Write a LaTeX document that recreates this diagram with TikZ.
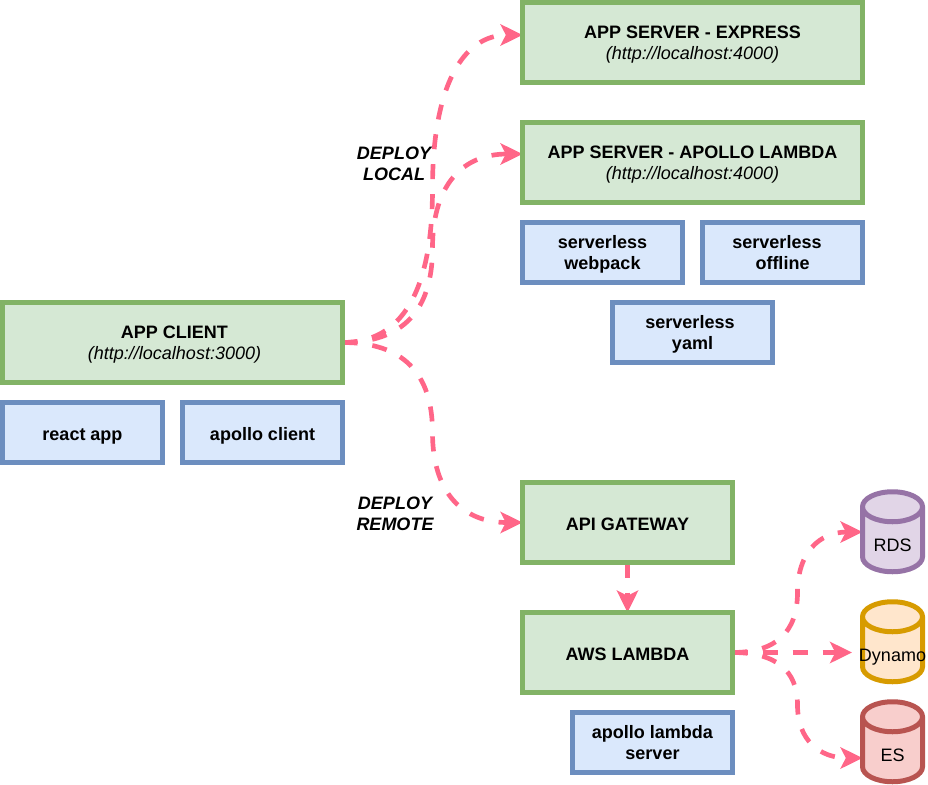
\documentclass[tikz,border=0pt]{standalone}
\usepackage{fontspec}
\setmainfont{Liberation Sans}
\usepackage{tikz}
\usetikzlibrary{arrows.meta, backgrounds, shapes.geometric}
\definecolor{linkpink}{HTML}{FF6688}
\definecolor{greenline}{HTML}{82B366}
\definecolor{greenfill}{HTML}{D5E8D4}
\definecolor{blueline}{HTML}{6C8EBF}
\definecolor{bluefill}{HTML}{DAE8FC}
\definecolor{purpleline}{HTML}{9673A6}
\definecolor{purplefill}{HTML}{E1D5E7}
\definecolor{orangeline}{HTML}{D79B00}
\definecolor{orangefill}{HTML}{FFE6CC}
\definecolor{redline}{HTML}{B85450}
\definecolor{redfill}{HTML}{F8CECC}

\begin{document}
\begin{tikzpicture}[x=0.75pt,y=-0.75pt,
        every node/.style={font=\fontsize{13.5}{15.75}\selectfont, align=center, outer sep=0pt, inner sep=0pt,
            execute at begin node=\rule{0pt}{15pt}, execute at end node=\rule[-3pt]{0pt}{3pt}},
        two lines/.style={execute at begin node=\rule{0pt}{28.5pt}},
        green box/.style={rectangle, line width=3.75pt, draw=greenline, fill=greenfill, minimum height=60pt},
        blue box/.style={rectangle, line width=3.75pt, draw=blueline, fill=bluefill, minimum width=120pt, minimum height=45pt},
        store/.style={cylinder, shape border rotate=90, aspect=0.5, line width=3.75pt, minimum width=45pt, minimum height=60pt,
            execute at begin node=\rule{0pt}{20pt}},
        deploy/.style={two lines, font=\fontsize{13.5}{15.75}\selectfont\bfseries\itshape},
        link/.style={draw=linkpink, line width=3.5pt, dash pattern=on 11.25pt off 11.25pt, -{Stealth[length=16.5pt,width=16pt,inset=4pt,fill=linkpink]}}]
        \useasboundingbox (0,0) rectangle (928,785);

        \node[green box, two lines, minimum width=255pt, execute at begin node=\rule{0pt}{28.5pt}\hspace*{3pt}] (client)  at (172.5,342.5) {\textbf{APP CLIENT}\\\textit{(http://localhost:3000)}};
        \node[blue box]                       (react)   at (82.5,432.5)  {\textbf{react app}};
        \node[blue box]                       (apollo)  at (262.5,432.5) {\textbf{apollo client}};

        \node[green box, two lines, minimum width=255pt] (express) at (692.5,42.5)  {\textbf{APP SERVER - EXPRESS}\\\textit{(http://localhost:4000)}};
        \node[green box, two lines, minimum width=255pt] (server)  at (692.5,162.5) {\textbf{APP SERVER - APOLLO LAMBDA}\\\textit{(http://localhost:4000)}};
        \node[blue box, two lines]            (webpack) at (602.5,252.5) {\textbf{serverless}\\\textbf{webpack}};
        \node[blue box, two lines]            (offline) at (782.5,252.5) {\textbf{serverless}\hspace*{8.25pt}\\\textbf{offline}};
        \node[blue box, two lines]            (yaml)    at (692.5,332.5) {\textbf{serverless}\hspace*{3.75pt}\\\textbf{yaml}};

        \node[green box, minimum width=157.5pt] (gateway) at (627.5,522.5) {\textbf{API GATEWAY}};
        \node[green box, minimum width=157.5pt] (lambda)  at (627.5,652.5) {\textbf{AWS LAMBDA}};
        \node[blue box, two lines]              (aserver) at (652.5,742.5) {\textbf{apollo lambda}\\\textbf{server}};

        \node[store, draw=purpleline, fill=purplefill] (rds)    at (892.5,540.5) {\makebox[45pt]{RDS}};
        \node[store, draw=orangeline, fill=orangefill] (dynamo) at (892.5,650.5) {\makebox[45pt]{Dynamo}};
        \node[store, draw=redline,    fill=redfill]    (es)     at (892.5,750.5) {\makebox[45pt]{ES}};

        \node[deploy] (local)  at (394,163) {DEPLOY\\LOCAL};
        \node[deploy] (remote) at (395,513) {DEPLOY\\REMOTE};

        \coordinate (express_in) at (522.5,35);
        \coordinate (server_in)  at (522.5,154);
        \coordinate (rds_in)     at (862.5,532);
        \coordinate (dynamo_in)  at (852,652.5);
        \coordinate (es_in)      at (862.5,758);

        \begin{scope}[on background layer]
        \draw[link] (client.east) .. controls +(60,0) and +(0,102) .. (432.5,188.5)
                                  .. controls +(0,-102) and +(-60,0) .. (express_in);
        \draw[link] (client.east) .. controls +(60,0) and +(0,63) .. (432.5,248)
                                  .. controls +(0,-63) and +(-60,0) .. (server_in);
        \draw[link] (client.east) .. controls +(60,0) and +(0,-60) .. (432.5,432.5)
                                  .. controls +(0,60) and +(-60,0) .. (gateway.west);
        \draw[link] (gateway) -- (lambda);
        \draw[link] (lambda.east) .. controls +(43,0) and +(0,40) .. (797.5,592.5)
                                  .. controls +(0,-40) and +(-43,0) .. (rds_in);
        \draw[link] (lambda.east) -- (dynamo_in);
        \draw[link] (lambda.east) .. controls +(43,0) and +(0,-35) .. (797.5,705)
                                  .. controls +(0,35) and +(-43,0) .. (es_in);
        \end{scope}
\end{tikzpicture}
\end{document}
